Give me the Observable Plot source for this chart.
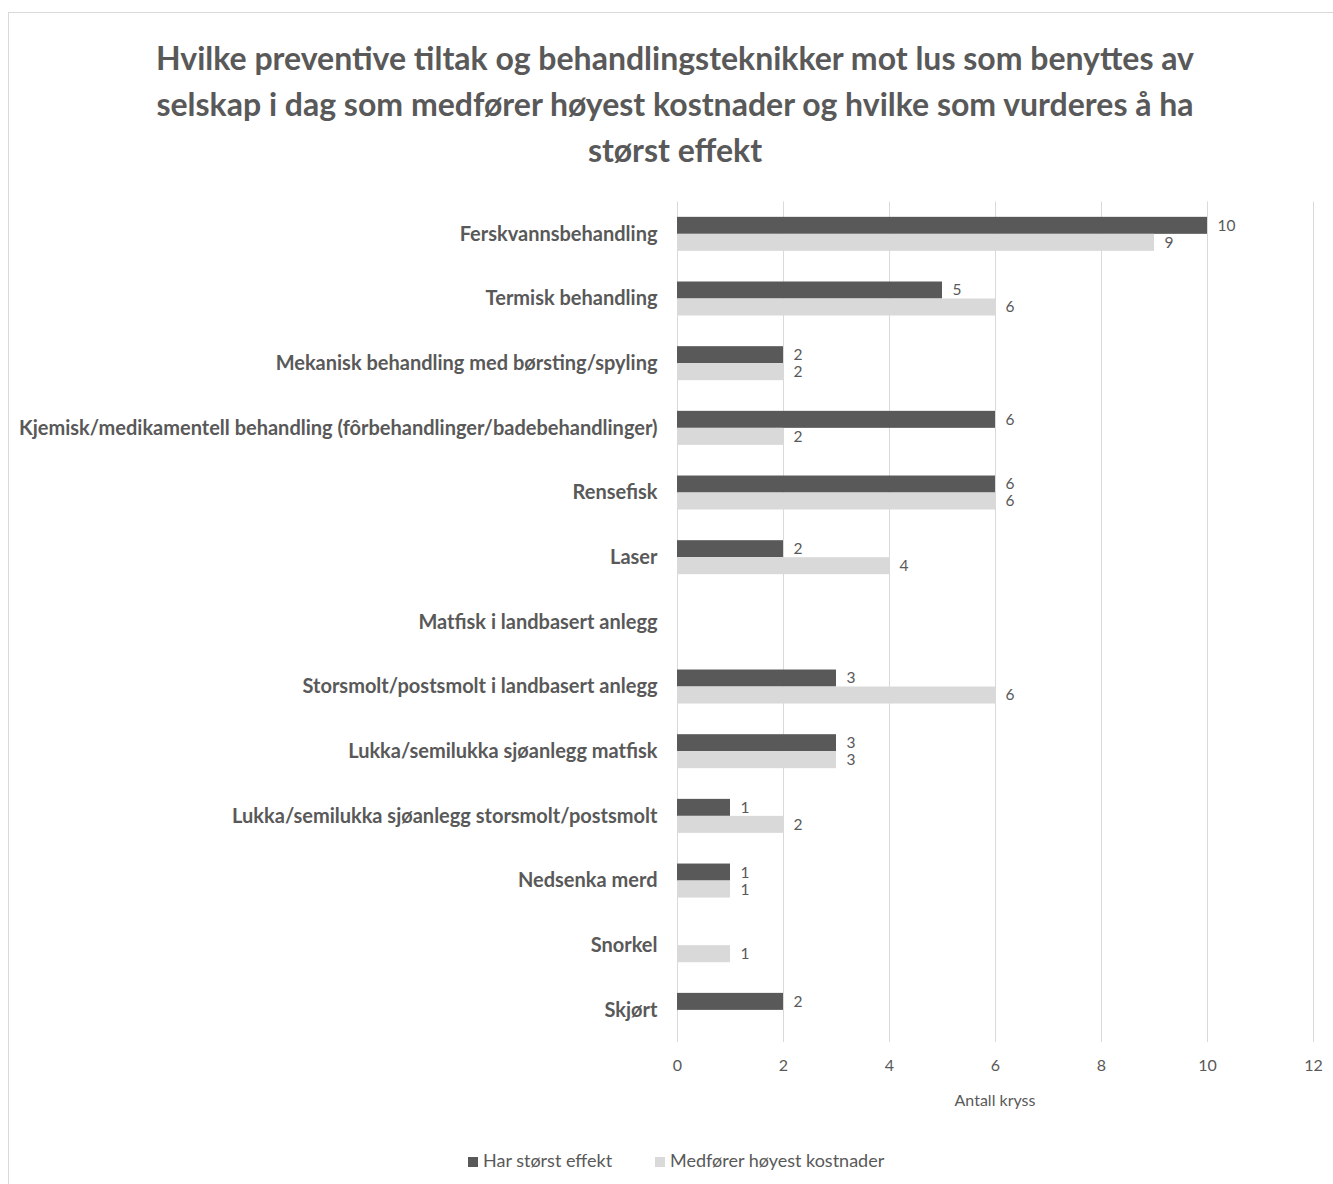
<!DOCTYPE html>
<html>
<head>
<meta charset="utf-8">
<script src="https://cdn.jsdelivr.net/npm/d3@7"></script>
<script src="https://cdn.jsdelivr.net/npm/@observablehq/plot@0.6"></script>
<style>
  html, body { margin: 0; padding: 0; background: #fff; overflow: hidden; }
  body { width: 1333px; height: 1184px; position: relative; font-family: Lato, "Open Sans", sans-serif; color: #595959; }
  #frame { position: absolute; left: 8px; top: 12px; width: 1340px; height: 1200px; border: 1px solid #d9d9d9; box-sizing: border-box; }
  #title { position: absolute; left: 0; top: 35px; width: 1350px; text-align: center; font-weight: bold; font-size: 32px; line-height: 46px; color: #595959; }
  #chart { position: absolute; left: 0; top: 190px; }
  #xlabel { position: absolute; left: 677px; width: 636px; top: 1090px; text-align: center; font-size: 16px; color: #595959; }
  #legend { position: absolute; left: 0; width: 1333px; top: 1149px; font-size: 18px; color: #595959; }
  .item { position: absolute; white-space: nowrap; }
  .sw { display: inline-block; width: 10px; height: 10px; margin-right: 5px; vertical-align: 0px; }
</style>
</head>
<body>
<div id="frame"></div>
<div id="title"></div>
<div id="chart"></div>
<div id="xlabel"></div>
<div id="legend"></div>
<script>
const titleLines = [
  "Hvilke preventive tiltak og behandlingsteknikker mot lus som benyttes av",
  "selskap i dag som medfører høyest kostnader og hvilke som vurderes å ha",
  "størst effekt"
];
const categories = [
  "Ferskvannsbehandling",
  "Termisk behandling",
  "Mekanisk behandling med børsting/spyling",
  "Kjemisk/medikamentell behandling (fôrbehandlinger/badebehandlinger)",
  "Rensefisk",
  "Laser",
  "Matfisk i landbasert anlegg",
  "Storsmolt/postsmolt i landbasert anlegg",
  "Lukka/semilukka sjøanlegg matfisk",
  "Lukka/semilukka sjøanlegg storsmolt/postsmolt",
  "Nedsenka merd",
  "Snorkel",
  "Skjørt"
];
const seriesNames = ["Har størst effekt", "Medfører høyest kostnader"];
const effekt =   [10, 5, 2, 6, 6, 2, null, 3, 3, 1, 1, null, 2];
const kostnad =  [9, 6, 2, 2, 6, 4, null, 6, 3, 2, 1, 1, null];
const xTicks = [0, 2, 4, 6, 8, 10, 12];
const axisLabel = "Antall kryss";
const colors = ["#595959", "#d9d9d9"];

document.getElementById("title").innerHTML = titleLines.join("<br>");
document.getElementById("xlabel").textContent = axisLabel;

const dEff = categories.map((c, i) => ({cat: c, value: effekt[i]})).filter(d => d.value != null);
const dKost = categories.map((c, i) => ({cat: c, value: kostnad[i]})).filter(d => d.value != null);

const band = 64.67, half = band / 2, barH = 17;
const mTop = 11.5, mBottom = 70;

const chart = Plot.plot({
  width: 1333,
  height: Math.round(mTop + band * categories.length + mBottom),
  marginLeft: 677,
  marginRight: 20,
  marginTop: mTop,
  marginBottom: mBottom,
  style: {fontFamily: "Lato, 'Open Sans', sans-serif", color: "#595959", background: "transparent"},
  x: {domain: [0, 12], ticks: xTicks, label: null},
  y: {domain: categories, padding: 0, round: false, label: null, range: [mTop, mTop + band * categories.length]},
  marks: [
    Plot.gridX(xTicks, {stroke: "#d9d9d9", strokeOpacity: 1, strokeWidth: 1}),
    Plot.barX(dEff, {x: "value", y: "cat", fill: colors[0], insetTop: half - barH, insetBottom: half}),
    Plot.barX(dKost, {x: "value", y: "cat", fill: colors[1], insetTop: half, insetBottom: half - barH}),
    Plot.text(dEff, {x: "value", y: "cat", text: d => String(d.value), dx: 10, dy: -barH / 2, textAnchor: "start", fontSize: 15.5, fill: "#595959"}),
    Plot.text(dKost, {x: "value", y: "cat", text: d => String(d.value), dx: 10, dy: barH / 2, textAnchor: "start", fontSize: 15.5, fill: "#595959"}),
    Plot.axisX({ticks: xTicks, tickSize: 0, tickPadding: 17, fontSize: 16, label: null}),
    Plot.axisY({tickSize: 0, tickPadding: 20, fontSize: 20, fontWeight: "bold", label: null})
  ]
});
document.getElementById("chart").appendChild(chart);

const legend = document.getElementById("legend");
const positions = [468, 655];
seriesNames.forEach((name, i) => {
  const el = document.createElement("div");
  el.className = "item";
  el.style.left = positions[i] + "px";
  el.innerHTML = `<span class="sw" style="background:${colors[i]}"></span>${name}`;
  legend.appendChild(el);
});
</script>
</body>
</html>
